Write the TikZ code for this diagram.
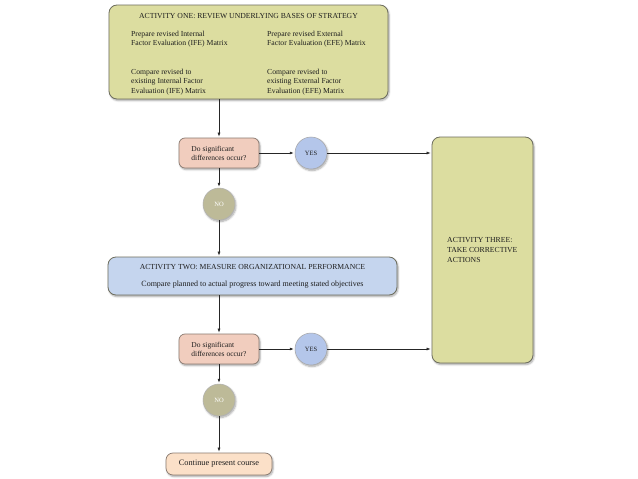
\documentclass[tikz,border=0pt]{standalone}
\usepackage{fontspec}
\setmainfont{Liberation Serif}
\usetikzlibrary{arrows.meta,shadows.blur,calc}
\definecolor{actfill}{HTML}{DCDDA0}
\definecolor{actdraw}{HTML}{6E6E5E}
\definecolor{decfill}{HTML}{F1CDBE}
\definecolor{decdraw}{HTML}{8A7A70}
\definecolor{yesfill}{HTML}{B4C6EA}
\definecolor{nofill}{HTML}{BDBA98}
\definecolor{act2fill}{HTML}{C5D5EE}
\definecolor{contfill}{HTML}{FBE0C8}
\definecolor{txt}{HTML}{1E1E1E}
\tikzset{
  shd/.style={blur shadow={shadow blur steps=6,shadow xshift=1pt,shadow yshift=-1.5pt,shadow opacity=35}},
  actbox/.style={draw=actdraw,line width=0.8pt,rounded corners=8pt,shd,inner sep=0pt},
  decbox/.style={draw=decdraw,fill=decfill,line width=0.7pt,rounded corners=6pt,shd,minimum width=80pt,minimum height=30pt,inner sep=0pt,text=txt,font=\fontsize{7.5}{9}\selectfont,align=left},
  yesc/.style={circle,draw=gray!70,fill=yesfill,line width=0.5pt,shd,minimum size=32pt,inner sep=0pt,text=txt,font=\fontsize{6.5}{7}\selectfont},
  noc/.style={circle,draw=gray!60,fill=nofill,line width=0.5pt,shd,minimum size=32pt,inner sep=0pt,text=white,font=\fontsize{6.5}{7}\selectfont},
  lbl/.style={inner sep=0pt,text=txt,font=\fontsize{7.7}{9.6}\selectfont,align=left,anchor=west},
  arr/.style={draw=black!85,line width=0.6pt,-{Latex[length=4pt,width=3pt]},shorten >=1pt}
}
\begin{document}
\begin{tikzpicture}[x=1pt,y=-1pt]
\useasboundingbox (0,0) rectangle (638,479);
% Activity one
\node[actbox,fill=actfill,minimum width=279pt,minimum height=94pt] (act1) at (248.5,52) {};
\node[lbl,anchor=center] (t1) at (248.5,16) {ACTIVITY ONE: REVIEW UNDERLYING BASES OF STRATEGY};
\node[lbl] (t1a) at (131,39) {Prepare revised Internal\\Factor Evaluation (IFE) Matrix};
\node[lbl] (t1b) at (267,39) {Prepare revised External\\Factor Evaluation (EFE) Matrix};
\node[lbl] (t1c) at (131,82) {Compare revised to\\existing Internal Factor\\Evaluation (IFE) Matrix};
\node[lbl] (t1d) at (267,82) {Compare revised to\\existing External Factor\\Evaluation (EFE) Matrix};
% Activity three
\node[actbox,fill=actfill,minimum width=101pt,minimum height=226pt] (act3) at (482.5,250) {};
\node[lbl] (t3) at (447,250) {ACTIVITY THREE:\\TAKE CORRECTIVE\\ACTIONS};
% Activity two
\node[actbox,fill=act2fill,minimum width=289pt,minimum height=38pt] (act2) at (252.5,276) {};
\node[lbl,anchor=center] (t2a) at (252.5,267) {ACTIVITY TWO: MEASURE ORGANIZATIONAL PERFORMANCE};
\node[lbl,anchor=center,font=\fontsize{8}{9.6}\selectfont] (t2b) at (252.5,285) {Compare planned to actual progress toward meeting stated objectives};
% decisions
\node[decbox] (dec1) at (219,153) {Do significant\\differences occur?};
\node[yesc] (yes1) at (311,153) {YES};
\node[noc] (no1) at (219,204) {NO};
\node[decbox] (dec2) at (219,349) {Do significant\\differences occur?};
\node[yesc] (yes2) at (311,349) {YES};
\node[noc] (no2) at (219,400) {NO};
\node[decbox,fill=contfill,minimum width=106pt,minimum height=22pt,rounded corners=7pt,align=center,font=\fontsize{8.3}{9}\selectfont] (cont) at (219,464) {Continue present course};
% connectors
\draw[arr] (act1.south -| dec1) -- (dec1);
\draw[arr] (dec1) -- (yes1);
\draw[arr] (yes1) -- (yes1 -| act3.west);
\draw[arr] (dec1) -- (no1);
\draw[arr] (no1) -- (no1 |- act2.north);
\draw[arr] (act2.south -| dec2) -- (dec2);
\draw[arr] (dec2) -- (yes2);
\draw[arr] (yes2) -- (yes2 -| act3.west);
\draw[arr] (dec2) -- (no2);
\draw[arr] (no2) -- (cont);
\end{tikzpicture}
\end{document}
